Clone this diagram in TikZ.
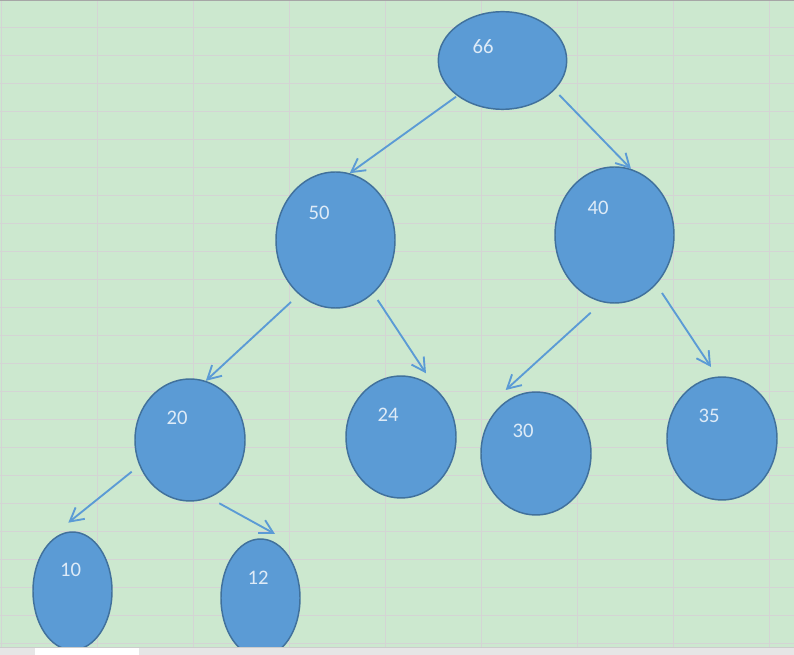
\documentclass[tikz,border=0pt]{standalone}
\usepackage{fontspec}
\setmainfont{Carlito}
\usepackage{xcolor}
\usepackage{tikz}
\usetikzlibrary{arrows.meta, shapes.geometric}

\definecolor{sheetgreen}{RGB}{204,232,207}
\definecolor{gridgray}{RGB}{212,212,212}
\definecolor{nodeblue}{RGB}{91,155,213}
\definecolor{nodeedge}{RGB}{65,113,156}
\definecolor{numtext}{RGB}{222,235,247}
\definecolor{bargray}{RGB}{230,230,230}
\newcommand{\numfont}{\fontsize{15.5}{18}\selectfont}

\begin{document}
\begin{tikzpicture}[
            x=0.75pt, y=-0.75pt,
            >={Straight Barb[length=10pt, width=11pt]},
            cell/.style={draw=gridgray, line width=0.75pt},
            heap/.style={ellipse, draw=nodeedge, line width=1.1pt, fill=nodeblue, inner sep=0pt},
            num/.style={text=numtext, font=\numfont, inner sep=0pt},
            edge/.style={->, line width=1.4pt, draw=nodeblue}
        ]

        % 1. Sheet background and cell grid
        \useasboundingbox (0,0) rectangle (794,655);
        \fill[sheetgreen] (0,0) rectangle (794,655);
        \foreach \gx in {1,97,...,769}
            \draw[cell] (\gx,0) -- (\gx,648);
        \foreach \gy in {28,56,...,644}
            \draw[cell] (0,\gy) -- (794,\gy);
        \draw[gray!70, line width=1.5pt] (0,0) -- (794,0);

        % 2. Heap nodes (root, second level, third level, leaves)
        \node[heap, minimum width=96.3pt, minimum height=73.2pt] (n66) at (502.5,60.5) {};
        \node[heap, minimum width=89.25pt, minimum height=102pt] (n50) at (335.5,240) {};
        \node[heap, minimum width=89.25pt, minimum height=102pt] (n40) at (614.5,235) {};
        \node[heap, minimum width=82.5pt, minimum height=91.5pt] (n20) at (190,440) {};
        \node[heap, minimum width=82.5pt, minimum height=91.5pt] (n24) at (401,437) {};
        \node[heap, minimum width=82.5pt, minimum height=92.25pt] (n30) at (536,453.5) {};
        \node[heap, minimum width=82.5pt, minimum height=92.25pt] (n35) at (722,438.5) {};
        \node[heap, minimum width=59.25pt, minimum height=88.5pt] (n10) at (72.5,591) {};
        \node[heap, minimum width=59.25pt, minimum height=88.5pt] (n12) at (260.5,598) {};

        % 3. Keys (set off to the upper left of each node)
        \node[num] (t66) at (483,47) {66};
        \node[num] (t50) at (319,213) {50};
        \node[num] (t40) at (598,208) {40};
        \node[num] (t20) at (177,418) {20};
        \node[num] (t24) at (388,415) {24};
        \node[num] (t30) at (523,431) {30};
        \node[num] (t35) at (709,416) {35};
        \node[num] (t10) at (70.5,570) {10};
        \node[num] (t12) at (258,577.5) {12};

        % 4. Loose arrow ends (they stop short of the ellipses)
        \coordinate (s66r) at (559.3,95);
        \coordinate (s50l) at (291,302);
        \coordinate (s50r) at (377.7,300);
        \coordinate (e24) at (426,373.3);
        \coordinate (s40l) at (590.7,312.7);
        \coordinate (e30) at (505.7,390);
        \coordinate (s40r) at (662,293);
        \coordinate (e35) at (711,367);
        \coordinate (s20l) at (131.7,471.7);
        \coordinate (e10) at (68.3,522.7);
        \coordinate (s20r) at (219.3,503.3);
        \coordinate (e12) at (275,534);

        % 5. Parent -> child arrows
        \draw[edge, shorten <=1pt] (n66.218) -- (n50.78);
        \draw[edge] (s66r) -- (n40.76);
        \draw[edge] (s50l) -- (n20.75);
        \draw[edge] (s50r) -- (e24);
        \draw[edge] (s40l) -- (e30);
        \draw[edge] (s40r) -- (e35);
        \draw[edge] (s20l) -- (e10);
        \draw[edge] (s20r) -- (e12);

        % 6. Sheet tab bar
        \fill[bargray] (0,648) rectangle (794,655);
        \draw[gray!40, line width=0.75pt] (0,648) -- (794,648);
        \fill[white] (35,648) rectangle (139,655);

        \end{tikzpicture}
\end{document}
